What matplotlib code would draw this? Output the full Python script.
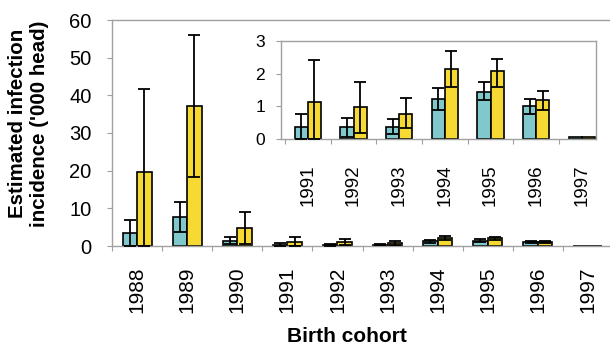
import matplotlib
matplotlib.use("Agg")
import matplotlib.pyplot as plt
import numpy as np

plt.rcParams['font.family'] = ['Liberation Sans', 'DejaVu Sans']

years = ['1988', '1989', '1990', '1991', '1992', '1993', '1994', '1995', '1996', '1997']
blue = [3.5, 7.6, 1.3, 0.36, 0.36, 0.38, 1.23, 1.44, 1.01, 0.06]
blue_lo = [0.0, 3.6, 0.6, 0.0, 0.07, 0.15, 0.9, 1.19, 0.78, 0.06]
blue_hi = [6.9, 11.6, 2.3, 0.75, 0.65, 0.6, 1.55, 1.74, 1.23, 0.06]
yellow = [19.6, 37.1, 4.7, 1.14, 0.97, 0.78, 2.14, 2.07, 1.19, 0.06]
yellow_lo = [0.0, 18.2, 0.5, 0.0, 0.17, 0.33, 1.58, 1.6, 0.9, 0.06]
yellow_hi = [41.6, 56.0, 9.0, 2.43, 1.74, 1.27, 2.69, 2.46, 1.46, 0.06]
inset_start = 3  # inset shows 1991 onwards

BLUE = '#80c8cc'
YELLOW = '#f6d933'
GRAY = '#a0a0a0'

fig = plt.figure(figsize=(6.1, 3.45), dpi=100)
W, H = 610, 345


def draw(ax, idx, w=0.29, capsize=4.5):
    x = np.arange(len(idx))
    b = np.array([blue[i] for i in idx])
    y = np.array([yellow[i] for i in idx])
    blo = np.array([blue_lo[i] for i in idx]); bhi = np.array([blue_hi[i] for i in idx])
    ylo = np.array([yellow_lo[i] for i in idx]); yhi = np.array([yellow_hi[i] for i in idx])
    ax.bar(x - w / 2, b, w, color=BLUE, edgecolor='black', linewidth=1.2, zorder=2)
    ax.bar(x + w / 2, y, w, color=YELLOW, edgecolor='black', linewidth=1.2, zorder=2)
    mb = bhi > blo
    my = yhi > ylo
    ax.errorbar((x - w / 2)[mb], b[mb], yerr=[(b - blo)[mb], (bhi - b)[mb]], fmt='none',
                ecolor='black', elinewidth=1.3, capsize=capsize, capthick=1.3, zorder=3)
    ax.errorbar((x + w / 2)[my], y[my], yerr=[(y - ylo)[my], (yhi - y)[my]], fmt='none',
                ecolor='black', elinewidth=1.3, capsize=capsize, capthick=1.3, zorder=3)
    for s in ax.spines.values():
        s.set_color(GRAY)
        s.set_linewidth(1.0)
    return x


# main axes
ax = fig.add_axes([112 / W, 1 - 246 / H, (613 - 112) / W, (246 - 20) / H])
idx = list(range(len(years)))
x = draw(ax, idx)
ax.set_xlim(-0.5, len(years) - 0.5)
ax.set_ylim(0, 60)
ax.set_yticks([0, 10, 20, 30, 40, 50, 60])
ax.set_xticks(np.arange(len(years) + 1) - 0.5, minor=False)
ax.set_xticklabels([])
ax.set_xticks(x, minor=True)
ax.set_xticklabels(years, minor=True, rotation=90, fontsize=15)
ax.tick_params(axis='x', which='minor', length=0, pad=15)
ax.tick_params(axis='x', which='major', length=3.6, color=GRAY, direction='out')
ax.tick_params(axis='y', length=3.6, color=GRAY, labelsize=14.5, pad=11)
ax.set_xlabel('Birth cohort', fontsize=15, fontweight='bold')
ax.xaxis.set_label_coords((347 - 112) / 501, (246 - 327) / 226)
ax.set_ylabel("Estimated infection\nincidence ('000 head)", fontsize=14.8, fontweight='bold')
ax.yaxis.set_label_coords((49 - 112) / 501, (246 - 123.5) / 226)

# inset
px = 45.7
ax2 = fig.add_axes([281 / W, 1 - 139 / H, (596 - 281) / W, (139 - 41) / H])
idx2 = list(range(inset_start, len(years)))
x2 = draw(ax2, idx2, capsize=4.5)
ax2.set_xlim(-0.5 - 4 / px, 6.31)
ax2.set_ylim(0, 3)
ax2.set_yticks([0, 1, 2, 3])
ax2.set_xticks(np.arange(len(idx2)) - 0.5)
ax2.set_xticklabels([])
ax2.set_xticks(x2, minor=True)
ax2.set_xticklabels([years[i] for i in idx2], minor=True, rotation=90, fontsize=13.5)
ax2.tick_params(axis='x', which='minor', length=0, pad=18)
ax2.tick_params(axis='x', which='major', length=3.6, color=GRAY, direction='out')
ax2.tick_params(axis='y', length=3.6, color=GRAY, labelsize=12.5, pad=8)

fig.savefig('out.png', dpi=100)
